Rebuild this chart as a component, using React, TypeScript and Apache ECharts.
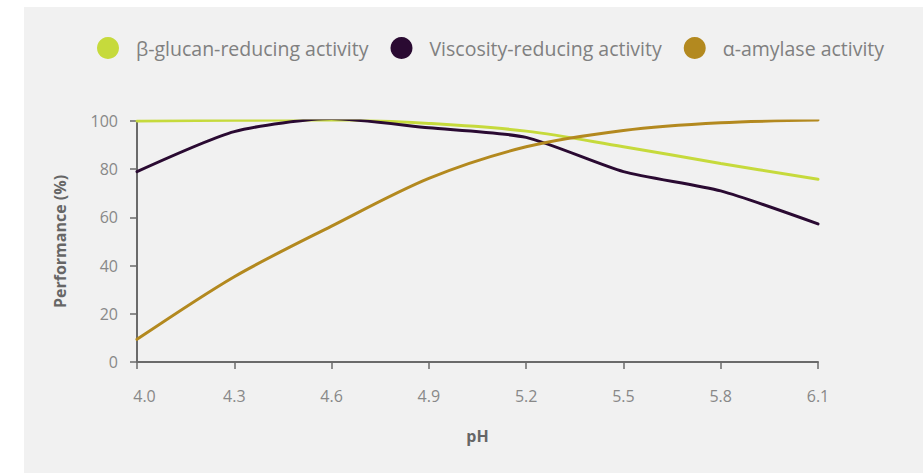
import React, { useEffect, useRef } from "react";
import * as echarts from "echarts";

// pH steps on the x axis
const phLevels = ["4.0", "4.3", "4.6", "4.9", "5.2", "5.5", "5.8", "6.1"];

// Relative enzyme performance (%) at each pH step
const betaGlucanActivity = [100, 100.3, 100.5, 99, 95.8, 89.3, 82.4, 75.8];
const viscosityActivity = [79, 95.6, 101, 97.2, 93.2, 79, 71, 57.3];
const alphaAmylaseActivity = [9.4, 35.4, 56.4, 76.2, 89.3, 96.1, 99.3, 100.4];

const seriesNames = [
  "β-glucan-reducing activity",
  "Viscosity-reducing activity",
  "α-amylase activity",
];
const seriesColors = ["#c6da3c", "#2a0a32", "#b3891f"];
const seriesSmooth = [0.35, 0.22, 0.3];

const FONT = "'Open Sans', sans-serif";

export default function App() {
  const ref = useRef<HTMLDivElement>(null);

  useEffect(() => {
    if (!ref.current) return;
    const chart = echarts.init(ref.current, undefined, { renderer: "svg" });
    const seriesData = [betaGlucanActivity, viscosityActivity, alphaAmylaseActivity];

    chart.setOption({
      animation: false,
      textStyle: { fontFamily: FONT },
      graphic: [
        {
          type: "rect",
          z: -10,
          silent: true,
          shape: { x: 24, y: 7, width: 899, height: 466 },
          style: { fill: "#f1f1f1" },
        },
      ],
      legend: {
        left: 92,
        top: 32,
        icon: "circle",
        itemWidth: 22,
        itemHeight: 22,
        itemGap: 22,
        data: seriesNames,
        textStyle: {
          fontFamily: FONT,
          fontSize: 19.5,
          color: "#808080",
          padding: [0, 0, 0, 12],
        },
      },
      grid: { left: 137, right: 105, top: 121, bottom: 111, containLabel: false },
      xAxis: {
        type: "category",
        data: phLevels,
        boundaryGap: false,
        name: "pH",
        nameLocation: "middle",
        nameGap: 66,
        nameTextStyle: { fontFamily: FONT, fontSize: 16, fontWeight: "bold", color: "#666" },
        axisLine: { lineStyle: { color: "#6a6a6a", width: 2 } },
        axisTick: { show: true, alignWithLabel: true, length: 7, lineStyle: { color: "#6a6a6a", width: 1.5 } },
        axisLabel: {
          margin: 26,
          fontSize: 16,
          color: "#888",
          fontFamily: FONT,
          formatter: (v: string, i: number) => (i === 0 ? `{first|${v}}` : v),
          rich: {
            first: { padding: [0, 0, 0, 15], fontSize: 16, color: "#888", fontFamily: FONT },
          },
        },
        splitLine: { show: false },
      },
      yAxis: {
        type: "value",
        min: 0,
        max: 100,
        interval: 20,
        name: "Performance (%)",
        nameLocation: "middle",
        nameGap: 69,
        nameTextStyle: { fontFamily: FONT, fontSize: 16, fontWeight: "bold", color: "#666" },
        axisLine: { show: true, lineStyle: { color: "#6a6a6a", width: 2 } },
        axisTick: { show: true, length: 7, lineStyle: { color: "#6a6a6a", width: 1.5 } },
        axisLabel: { margin: 19, fontSize: 16, color: "#888", fontFamily: FONT },
        splitLine: { show: false },
      },
      series: seriesNames.map((name, i) => ({
        name,
        type: "line",
        data: seriesData[i],
        smooth: seriesSmooth[i],
        symbol: "none",
        color: seriesColors[i],
        lineStyle: { width: 3, color: seriesColors[i], cap: "round" },
        z: i === 0 ? 2 : 3,
      })),
    });

    return () => chart.dispose();
  }, []);

  return (
    <div
      ref={ref}
      style={{ position: "fixed", left: 0, top: 0, width: 923, height: 473, background: "#fff" }}
    />
  );
}
